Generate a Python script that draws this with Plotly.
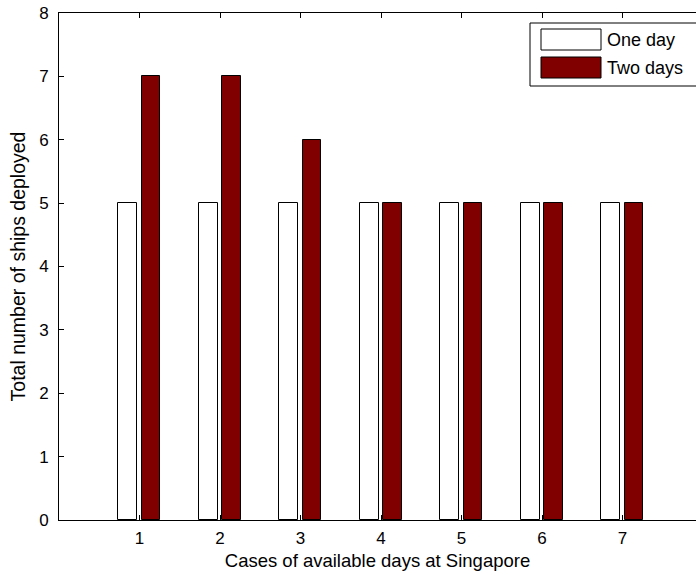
import plotly.graph_objects as go

cases = [1, 2, 3, 4, 5, 6, 7]
one_day = [5, 5, 5, 5, 5, 5, 5]
two_days = [7, 7, 6, 5, 5, 5, 5]
series_names = ["One day", "Two days"]
x_title = "Cases of available days at Singapore"
y_title = "Total number of ships deployed"

W, H = 696, 576
L, T, B = 59, 13, 56
plot_w = W - L
plot_h = H - T - B
unit_px = 80.5
xmax = plot_w / unit_px

fig = go.Figure()
fig.add_trace(go.Bar(x=cases, y=one_day, name=series_names[0], width=0.235, offset=-0.265,
                     marker=dict(color="white", line=dict(color="black", width=1)), showlegend=False))
fig.add_trace(go.Bar(x=cases, y=two_days, name=series_names[1], width=0.235, offset=0.025,
                     marker=dict(color="#800000", line=dict(color="black", width=1)), showlegend=False))

fam = "Liberation Sans, Arial, sans-serif"

def px2paper(px, py):
    return (px - L) / plot_w, (H - B - py) / plot_h

# custom legend (MATLAB style)
x0, y0 = px2paper(530, 23)
x1, y1 = px2paper(720, 86)
fig.add_shape(type="rect", xref="paper", yref="paper", x0=x0, y0=y1, x1=x1, y1=y0,
              line=dict(color="black", width=1), fillcolor="white", layer="above")
swatches = [("white", 29, 50), ("#800000", 57, 78)]
for (col, ya, yb), name in zip(swatches, series_names):
    sx0, sy0 = px2paper(541, ya)
    sx1, sy1 = px2paper(601, yb)
    fig.add_shape(type="rect", xref="paper", yref="paper", x0=sx0, y0=sy1, x1=sx1, y1=sy0,
                  line=dict(color="black", width=1), fillcolor=col, layer="above")
    tx, ty = px2paper(605, (ya + yb) / 2)
    fig.add_annotation(xref="paper", yref="paper", x=tx, y=ty, text=name, showarrow=False,
                       xanchor="left", yanchor="middle",
                       font=dict(family=fam, size=18, color="black"))

fig.update_layout(
    width=W, height=H,
    margin=dict(l=L, r=0, t=T, b=B),
    paper_bgcolor="white", plot_bgcolor="white",
    font=dict(family=fam, size=16, color="black"),
    xaxis=dict(range=[0, xmax], tickvals=cases, ticks="inside", ticklen=5, tickcolor="black",
               showline=True, linecolor="black", linewidth=1, mirror="ticks", showgrid=False,
               zeroline=False,
               title=dict(text=x_title, standoff=6, font=dict(family=fam, size=18.5, color="black")),
               tickfont=dict(family=fam, size=17, color="black"),
               ticklabelstandoff=3),
    yaxis=dict(range=[0, 8], tickvals=list(range(0, 9)), ticks="inside", ticklen=5, tickcolor="black",
               showline=True, linecolor="black", linewidth=1, mirror=False, showgrid=False,
               zeroline=False,
               title=dict(text=y_title, standoff=8, font=dict(family=fam, size=19.5, color="black")),
               tickfont=dict(family=fam, size=17, color="black"),
               ticklabelstandoff=6),
    bargap=0, bargroupgap=0,
)

fig.write_html("out.html")
